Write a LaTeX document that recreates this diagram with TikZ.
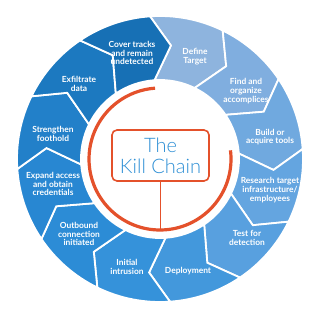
\documentclass[tikz,border=0pt]{standalone}
\usepackage{fontspec}
\setmainfont{Lato}
\newfontfamily\kctitlefont{Lato Light}
\definecolor{cA}{HTML}{8EB4DE}
\definecolor{cB}{HTML}{80AEDF}
\definecolor{cC}{HTML}{70A9DF}
\definecolor{cD}{HTML}{64A5E0}
\definecolor{cE}{HTML}{58A0DF}
\definecolor{cF}{HTML}{4398DC}
\definecolor{cG}{HTML}{3592DA}
\definecolor{cH}{HTML}{2C8CD6}
\definecolor{cI}{HTML}{2887D2}
\definecolor{cJ}{HTML}{2280C9}
\definecolor{cK}{HTML}{1C79C0}
\definecolor{cL}{HTML}{1770B5}
\definecolor{kcorange}{HTML}{E4512B}
\definecolor{kcblue}{HTML}{2D8FD5}
\tikzset{
  segshape/.style={draw=white, line width=1.8pt, line join=miter},
  seglabel/.style={text=white, align=center, inner sep=0pt,
    font=\bfseries\fontsize{8.4}{8.8}\selectfont},
  titlebox/.style={draw=kcorange, line width=1.6pt, rounded corners=5pt,
    fill=white, minimum width=97pt, minimum height=51pt, align=center,
    text=kcblue, font=\kctitlefont\fontsize{20}{21}\selectfont, inner sep=0pt},
  orangering/.style={draw=kcorange, line width=3.2pt},
  tailline/.style={draw=kcorange, line width=1.4pt}
}
\begin{document}
\begin{tikzpicture}[x=1pt,y=1pt]
\useasboundingbox (0,0) rectangle (320,318);
\fill[white] (0,0) rectangle (320,318);
\coordinate (ctr) at (160,159);
\begin{scope}[shift={(160,159)}]
\foreach \sa/\sc in {94/cA,64/cB,34/cC,4/cD,-26/cE,-56/cF,-86/cG,-116/cH,-146/cI,-176/cJ,-206/cK,-236/cL} {
  \pgfmathsetmacro\segEnd{\sa-30}
  \pgfmathsetmacro\tipA{\sa-9.5}
  \pgfmathsetmacro\tipB{\sa-39.5}
  \path[segshape, fill=\sc] (\sa:143pt) arc[start angle=\sa, end angle=\segEnd, radius=143pt]
    -- (\tipB:114pt) -- (\segEnd:79pt)
    arc[start angle=\segEnd, end angle=\sa, radius=79pt]
    -- (\tipA:114pt) -- cycle;
}
\draw[orangering] (7:71pt) arc[start angle=7, end angle=-266, radius=71pt];
\end{scope}
\coordinate (ringbottom) at (160,88);
\node[titlebox] (title) at (160.5,162.5) {The\\Kill Chain};
\draw[tailline] (title.south) -- (title.south |- ringbottom);
\node[seglabel] (lDefine) at (195,261) {Define\\Target};
\node[seglabel] (lFind) at (246,227) {Find and\\organize\\accomplices};
\node[seglabel] (lBuild) at (270,181) {Build or\\acquire tools};
\node[seglabel] (lResearch) at (270,128) {Research target\\infrastructure/\\employees};
\node[seglabel] (lTest) at (247,80) {Test for\\detection};
\node[seglabel] (lDeploy) at (188,47) {Deployment};
\node[seglabel] (lInitial) at (127,51) {Initial\\intrusion};
\node[seglabel] (lOutbound) at (79,84) {Outbound\\connection\\initiated};
\node[seglabel] (lExpand) at (53,134) {Expand access\\and obtain\\credentials};
\node[seglabel] (lStrengthen) at (53,184) {Strengthen\\foothold};
\node[seglabel] (lExfil) at (79,234) {Exfiltrate\\data};
\node[seglabel] (lCover) at (132,265) {Cover tracks\\and remain\\undetected};
\end{tikzpicture}
\end{document}
